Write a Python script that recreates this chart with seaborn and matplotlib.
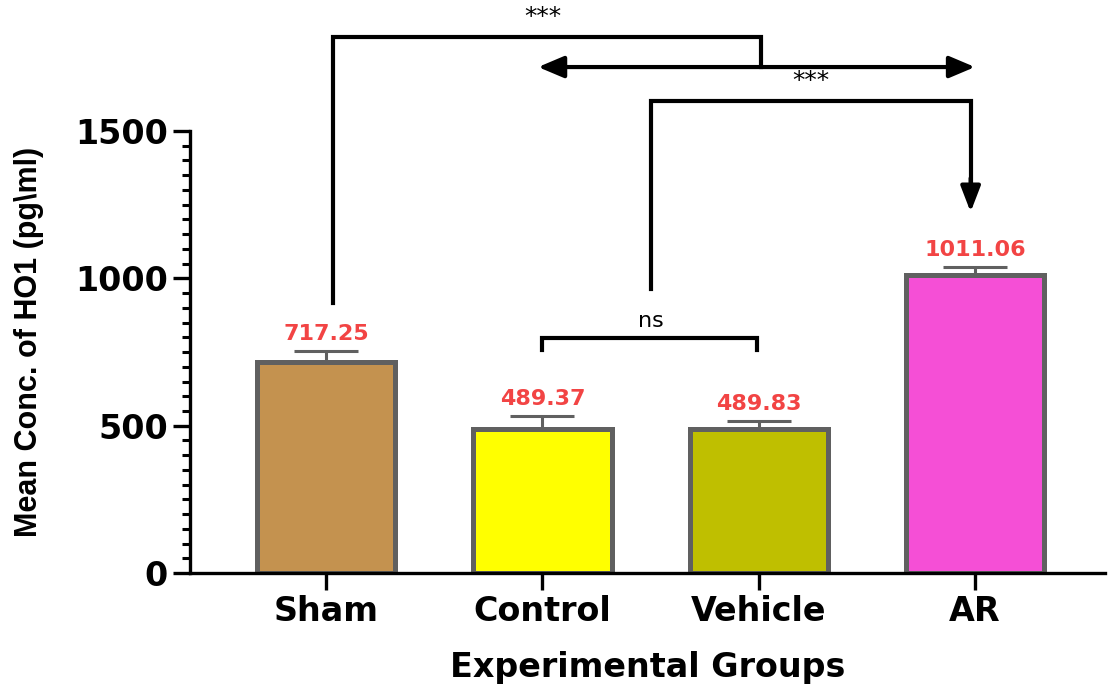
import numpy as np
import pandas as pd
import seaborn as sns
import matplotlib.pyplot as plt
from matplotlib.ticker import MultipleLocator

groups = ["Sham", "Control", "Vehicle", "AR"]
means = [717.25, 489.37, 489.83, 1011.06]
sems = [36, 44, 26, 27]
colors = ["#C4924F", "#FFFF00", "#BFBF00", "#F54FD6"]

sns.set_theme(style="white")
plt.rcParams["font.family"] = ["DejaVu Sans"]
plt.rcParams["text.color"] = "black"
plt.rcParams["axes.labelcolor"] = "black"

df = pd.DataFrame({"group": groups, "mean": means})

fig = plt.figure(figsize=(11.08, 6.88), dpi=100)
ax = fig.add_axes([0.1715, 0.167, 0.8255, 0.6426])

sns.barplot(data=df, x="group", y="mean", hue="group", palette=colors,
            saturation=1, width=0.64, edgecolor="#606060", linewidth=3.6,
            legend=False, ax=ax, zorder=2)

xs = np.arange(len(groups))
ax.errorbar(xs, means, yerr=[np.zeros(len(sems)), sems], fmt="none",
            ecolor="#606060", elinewidth=2.2, capsize=23, capthick=2.2, zorder=1)

for x, m, s in zip(xs, means, sems):
    ax.annotate(f"{m:.2f}", (x, m + s), xytext=(0, 5), textcoords="offset points",
                ha="center", va="bottom", color="#F24444", fontsize=16,
                fontweight="bold")

ax.set_xlim(-0.63, 3.6)
ax.set_ylim(0, 1500)
ax.yaxis.set_major_locator(MultipleLocator(500))
ax.yaxis.set_minor_locator(MultipleLocator(50))
for s in ["top", "right"]:
    ax.spines[s].set_visible(False)
for s in ["left", "bottom"]:
    ax.spines[s].set_color("black")
    ax.spines[s].set_linewidth(2.4)
ax.tick_params(axis="y", which="major", direction="out", length=12, width=2.4,
               colors="black", left=True, labelsize=24, pad=4)
ax.tick_params(axis="y", which="minor", direction="out", length=6, width=2.2,
               colors="black", left=True)
ax.tick_params(axis="x", which="major", direction="out", length=12, width=2.4,
               colors="black", bottom=True, labelsize=24, pad=4)
for lab in ax.get_yticklabels() + ax.get_xticklabels():
    lab.set_fontweight("bold")

ax.set_xlabel("Experimental Groups", fontsize=24, fontweight="bold", labelpad=16)
ax.set_ylabel("Mean Conc. of HO1 (pg\\ml)", fontsize=22, fontweight="bold",
              family=["Liberation Sans"])
ax.yaxis.set_label_coords(-0.160, 0.522)

lw = 3.0
kw = dict(color="black", lw=lw, clip_on=False, solid_capstyle="projecting",
          solid_joinstyle="miter")
# Sham vs Vehicle/Control comparison
ax.plot([0.03, 0.03, 2.01, 2.01], [916, 1819, 1819, 1717], **kw)
ax.text(1.0, 1845, "***", ha="center", va="bottom", fontsize=18, clip_on=False)
# double-headed arrow spanning Control..AR
ax.annotate("", xy=(0.98, 1717), xytext=(3.0, 1717), annotation_clip=False,
            arrowprops=dict(arrowstyle="<|-|>,head_length=1.3,head_width=0.55",
                            color="black", lw=lw, shrinkA=0, shrinkB=0))
# Control/Vehicle vs AR comparison
ax.plot([1.5, 1.5, 2.98, 2.98], [965, 1602, 1602, 1330], **kw)
ax.annotate("", xy=(2.98, 1225), xytext=(2.98, 1340), annotation_clip=False,
            arrowprops=dict(arrowstyle="-|>,head_length=1.3,head_width=0.5",
                            color="black", lw=lw, shrinkA=0, shrinkB=0))
ax.text(2.24, 1630, "***", ha="center", va="bottom", fontsize=18, clip_on=False)
# Control vs Vehicle
ax.plot([1.0, 1.0, 1.99, 1.99], [757, 797, 797, 757], **kw)
ax.text(1.5, 820, "ns", ha="center", va="bottom", fontsize=16, clip_on=False)

fig.savefig("out.png", dpi=100)
